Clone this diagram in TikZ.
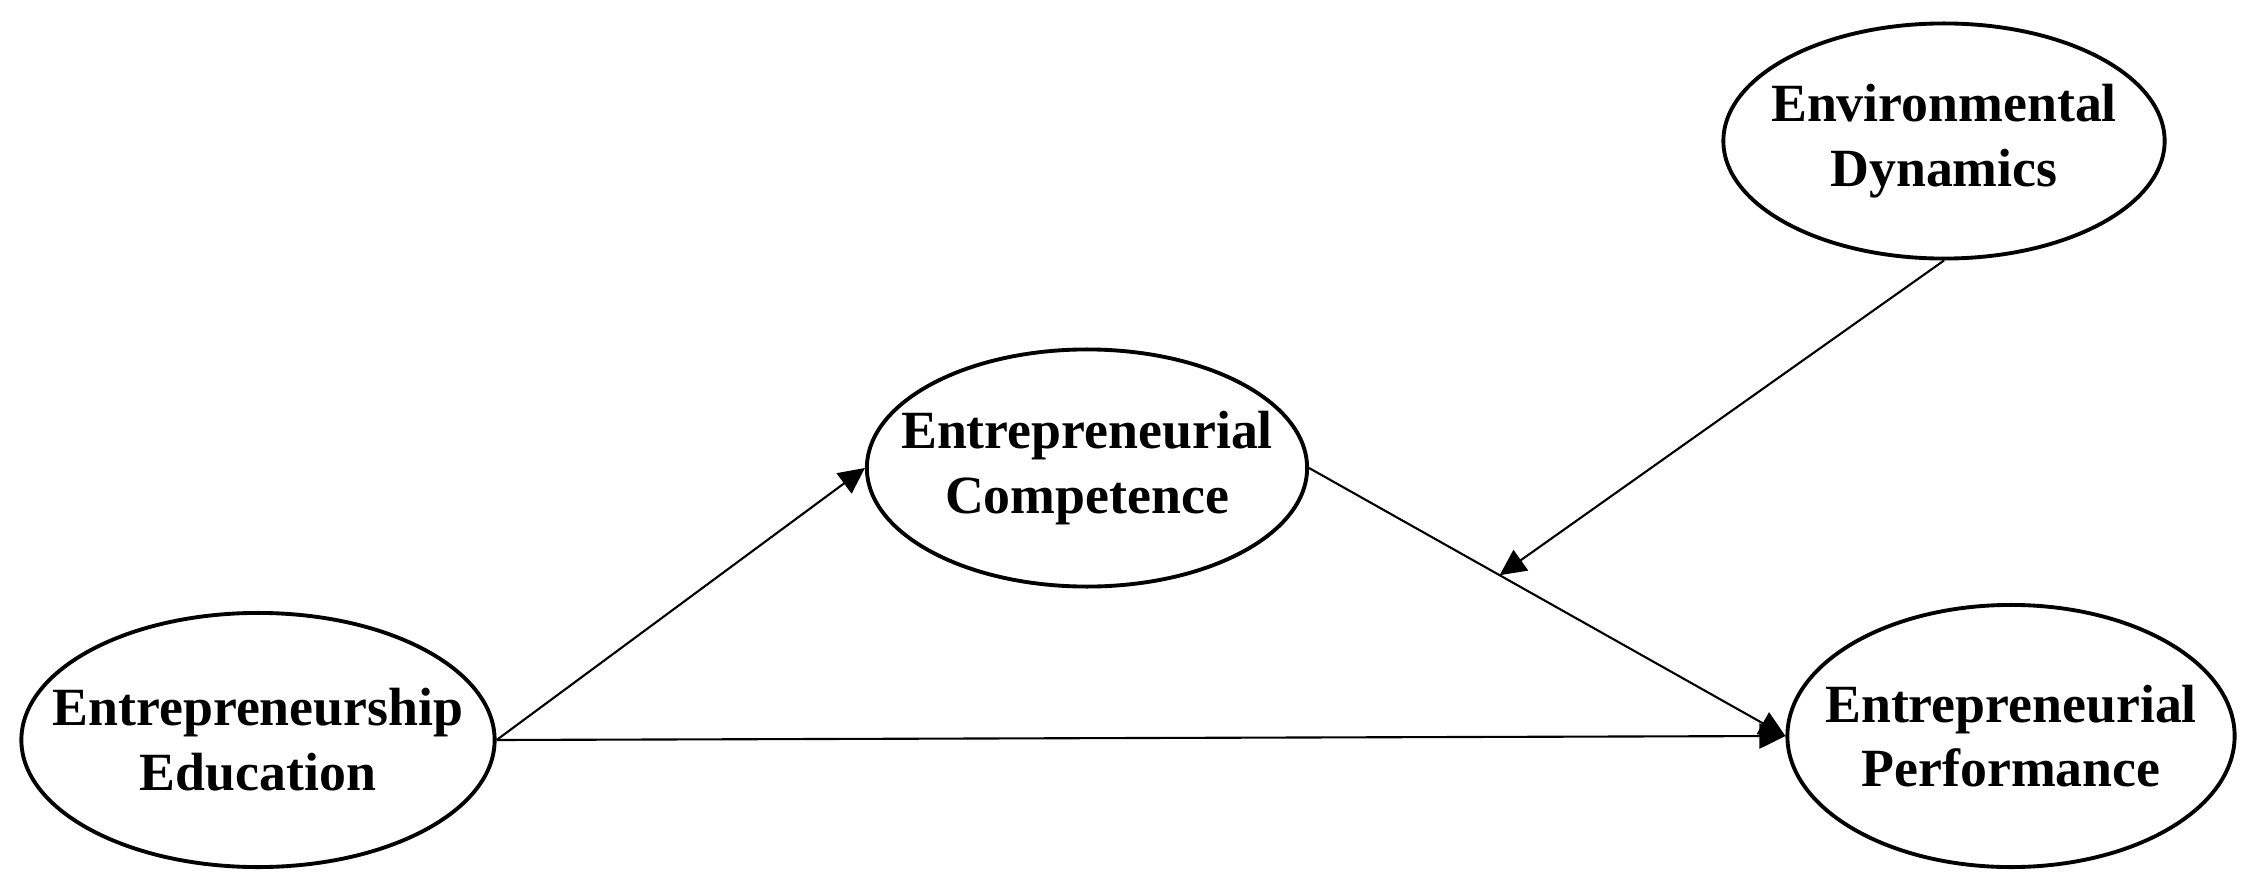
\documentclass[tikz,border=0pt]{standalone}
\usepackage{fontspec}
\setmainfont{Liberation Serif}
\usepackage{tikz}
\usetikzlibrary{shapes,shapes.geometric}
\usetikzlibrary{arrows.meta}
\usetikzlibrary{calc}
\tikzstyle{construct}=[ellipse, draw, line width=1.1pt, inner sep=0pt]
\tikzstyle{constructtext}=[align=center, inner sep=0pt, font=\fontsize{15.3}{18.4}\selectfont\bfseries]
\tikzstyle{path>}=[line width=0.6pt, -{Triangle[length=0.26cm,width=0.25cm]}]
\newcommand{\pixel}{0.01}
\begin{document}
\begin{tikzpicture}[x=\pixel cm, y=-\pixel cm]
\useasboundingbox (0,0) rectangle (2257,888);
\node[construct, minimum width=4.73cm, minimum height=2.54cm,
  label={[constructtext]center:{Entrepreneurship\\Education}}] (edu) at (258,740) {};
\node[construct, minimum width=4.40cm, minimum height=2.37cm,
  label={[constructtext]center:{Entrepreneurial\\Competence}}] (comp) at (1087,468) {};
\node[construct, minimum width=4.41cm, minimum height=2.35cm,
  label={[constructtext]center:{Environmental\\Dynamics}}] (env) at (1944,141) {};
\node[construct, minimum width=4.47cm, minimum height=2.62cm,
  label={[constructtext]center:{Entrepreneurial\\Performance}}] (perf) at (2011,736) {};
\coordinate (mod) at ($(comp.east)!.4!(perf.west)$);
\draw[path>] (edu.east) -- (comp.west);
\draw[path>] (edu.east) -- (perf.west);
\draw[path>] (comp.east) -- (perf.west);
\draw[path>] (env.south) -- (mod);
\end{tikzpicture}
\end{document}
